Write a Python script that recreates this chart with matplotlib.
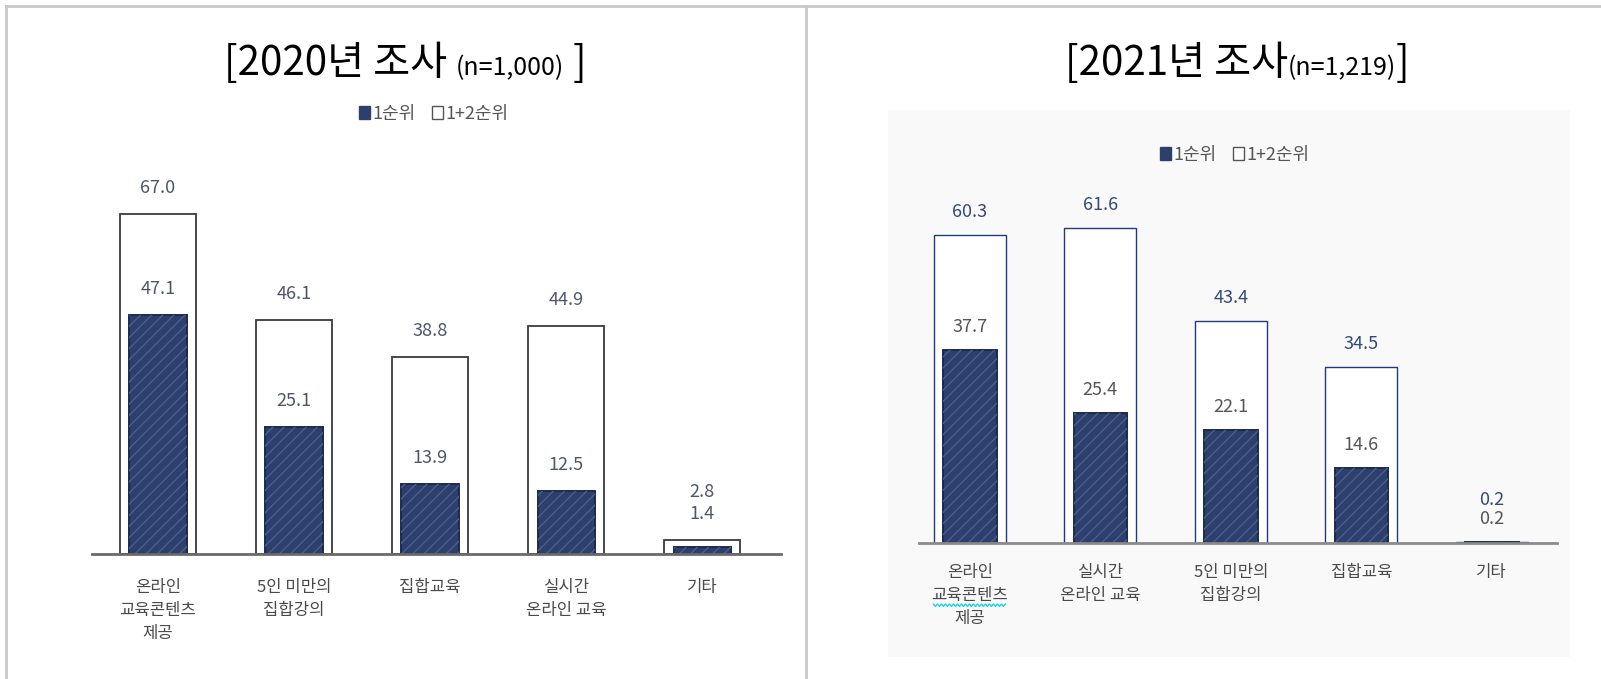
import numpy as np
import matplotlib
matplotlib.use('Agg')
from matplotlib import pyplot as plt
from matplotlib.patches import Patch, Rectangle
from matplotlib.lines import Line2D

plt.rcParams['font.family'] = ['Noto Sans CJK KR', 'DejaVu Sans']
plt.rcParams['hatch.linewidth'] = 1.0

# 2020년 조사
cats_2020 = ['온라인\n교육콘텐츠\n제공', '5인 미만의\n집합강의', '집합교육', '실시간\n온라인 교육', '기타']
first_2020 = [47.1, 25.1, 13.9, 12.5, 1.4]
both_2020 = [67.0, 46.1, 38.8, 44.9, 2.8]

# 2021년 조사
cats_2021 = ['온라인\n교육콘텐츠\n제공', '실시간\n온라인 교육', '5인 미만의\n집합강의', '집합교육', '기타']
first_2021 = [37.7, 25.4, 22.1, 14.6, 0.2]
both_2021 = [60.3, 61.6, 43.4, 34.5, 0.2]

legend_labels = ['1순위', '1+2순위']

W, H = 1601, 679
NAVY = '#2c3f6d'
STRIPE = '#4b5f8e'

fig = plt.figure(figsize=(W / 100, H / 100), dpi=100)


def px_axes(x0, x1, base, top):
    ax = fig.add_axes([x0 / W, (H - base) / H, (x1 - x0) / W, (base - top) / H])
    ax.set_facecolor('none')
    return ax


def fmt(v):
    return f'{v:.1f}'


def draw_panel(ax, cats, first, both, w_out, w_in, outer_ec, outer_lw,
               outer_c, inner_c, off, step, axis_c, pad):
    x = np.arange(len(cats))
    ax.bar(x, both, width=w_out, facecolor='white', edgecolor=outer_ec,
           linewidth=outer_lw, zorder=2)
    ax.bar(x, first, width=w_in, facecolor=NAVY, edgecolor='#1c2a4e',
           linewidth=1.4, zorder=3)
    ax.bar(x, first, width=w_in, facecolor='none', edgecolor=STRIPE,
           hatch='///', linewidth=0, zorder=4)

    for i in range(len(cats)):
        if both[i] - first[i] < 8:
            # 값이 작으면 두 라벨을 바깥 막대 위에 쌓는다
            y_in, d_in = both[i], off
            y_out, d_out = both[i], off + step
        else:
            y_in, d_in = first[i], off
            y_out, d_out = both[i], off
        ax.annotate(fmt(first[i]), (x[i], y_in), xytext=(0, d_in),
                    textcoords='offset pixels', ha='center', va='center',
                    fontsize=13, color=inner_c, zorder=5)
        ax.annotate(fmt(both[i]), (x[i], y_out), xytext=(0, d_out),
                    textcoords='offset pixels', ha='center', va='center',
                    fontsize=13, color=outer_c, zorder=5)

    ax.set_ylim(0, 80)
    ax.set_yticks([])
    ax.set_xticks(x, cats, fontsize=12, color='#4a4a4a', linespacing=1.45)
    ax.tick_params(axis='x', length=0, pad=pad)
    for s in ['top', 'left', 'right']:
        ax.spines[s].set_visible(False)
    ax.spines['bottom'].set_color(axis_c)
    ax.spines['bottom'].set_linewidth(2.0)
    ax.spines['bottom'].set_zorder(6)


# 오른쪽 패널 배경
fig.add_artist(Rectangle((888 / W, (H - 657) / H), (1570 - 888) / W, (657 - 110) / H,
                         transform=fig.transFigure, facecolor='#f9f9f9',
                         edgecolor='none', zorder=0))

ax1 = px_axes(92, 781, 554, 554 - 80 * 5.07)
ax1.set_xlim(-0.485, 4.58)
draw_panel(ax1, cats_2020, first_2020, both_2020, 0.56, 0.42, '#3a3a3a', 1.3,
           '#4d566b', '#4d566b', 26, 22, '#6a6a6a', 18)

ax2 = px_axes(919, 1557, 543, 543 - 80 * 5.11)
ax2.set_xlim(-0.39, 4.5)
draw_panel(ax2, cats_2021, first_2021, both_2021, 0.55, 0.41, '#1f3b7a', 1.0,
           '#34497a', '#555555', 23, 19, '#8a8a8a', 15)

# 범례
for cx, cy in [(434, 114), (1235, 155)]:
    handles = [Patch(facecolor=NAVY, edgecolor=NAVY),
               Patch(facecolor='white', edgecolor='#555555', linewidth=1.0)]
    fig.legend(handles, legend_labels, loc='center', ncol=2,
               bbox_to_anchor=(cx / W, 1 - cy / H), frameon=False,
               fontsize=13, labelcolor='#555555', handlelength=0.6,
               handleheight=0.7, handletextpad=0.15, columnspacing=0.9)


def put_title(cx, base_y, parts):
    r = fig.canvas.get_renderer()
    items = [fig.text(0, 1 - base_y / H, s, fontsize=fs, va='baseline',
                      ha='left', color='black') for s, fs in parts]
    widths = [t.get_window_extent(r).width for t in items]
    x = cx - sum(widths) / 2
    for t, w in zip(items, widths):
        t.set_x(x / W)
        x += w


put_title(405, 75, [('[2020년 조사 ', 29), ('(n=1,000)', 18), (' ]', 29)])
put_title(1237, 75, [('[2021년 조사', 29), ('(n=1,219)', 18), (']', 29)])

# 맞춤법 검사 밑줄 (교육콘텐츠)
r = fig.canvas.get_renderer()
bb = ax2.get_xticklabels()[0].get_window_extent(r)
wy = bb.y1 - bb.height * 0.66
wx = np.arange(bb.x0 + 2, bb.x1 - 2, 2.0)
wave = wy + np.where(np.arange(len(wx)) % 2 == 0, 1.2, -1.2)
fig.add_artist(Line2D(wx / W, wave / H, transform=fig.transFigure,
                      color='#19d3e6', linewidth=1.0, zorder=7))

# 테두리 선
line_kw = dict(transform=fig.transFigure, color='#c8c8c8', linewidth=2.0)
fig.add_artist(Line2D([6 / W, 1], [1 - 6 / H, 1 - 6 / H], **line_kw))
fig.add_artist(Line2D([6 / W, 6 / W], [0, 1 - 6 / H], **line_kw))
fig.add_artist(Line2D([806 / W, 806 / W], [0, 1 - 6 / H], **line_kw))

fig.savefig('out.png', dpi=100)
